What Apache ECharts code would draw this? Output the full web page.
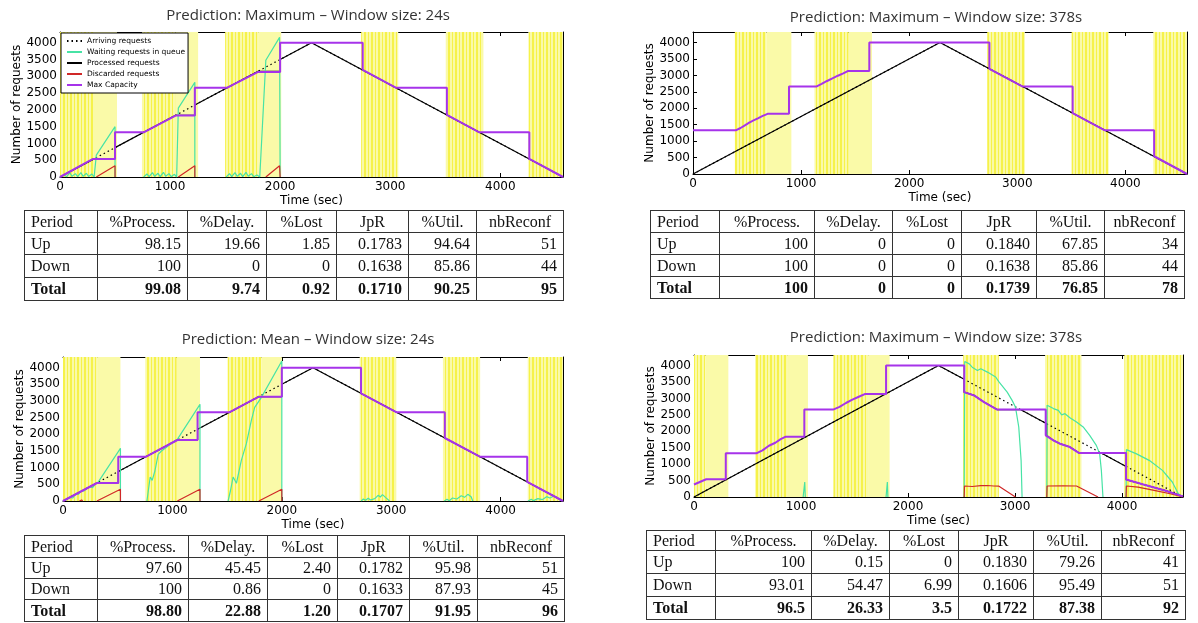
<!DOCTYPE html>
<html><head><meta charset="utf-8">
<script src="https://cdn.jsdelivr.net/npm/echarts@6/dist/echarts.min.js"></script>
<style>
html,body{margin:0;padding:0;background:#fff;}
#chart{position:absolute;left:0;top:0;width:1198px;height:623px;}
.tbl{position:absolute;border-collapse:collapse;table-layout:fixed;font-family:'Liberation Serif','Times New Roman',serif;font-size:16px;color:#111;}
.tbl td{border:1px solid #333;padding:0 6px;white-space:nowrap;line-height:1;overflow:hidden;}
.tbl td.l{text-align:left;} .tbl td.c{text-align:center;} .tbl td.r{text-align:right;}
.tbl tr.tot td{font-weight:bold;}
.notop tr:first-child td{border-top:none;}
</style></head><body>
<div id="chart"></div>
<script>
// ---------------- DATA ----------------
const XMAX = 4570, YMAX = 4320;
const titles = ['Prediction: Maximum \u2013 Window size: 24s', 'Prediction: Maximum \u2013 Window size: 378s',
                'Prediction: Mean \u2013 Window size: 24s', 'Prediction: Maximum \u2013 Window size: 378s'];
const seriesNames = ['Arriving requests', 'Waiting requests in queue', 'Processed requests', 'Discarded requests', 'Max Capacity'];

const arrival = [[0,0],[2285,4000],[4570,0]];

// panel 1 : Maximum, 24s
const bands1 = [[0,300,518],[745,1050,1255],[1500,1800,2010],[2736,3073,3073],[3506,3845,3845],[4255,4570,4570]];
const cap1 = [[0,0],[300,540],[500,540],[500,1330],[760,1330],[1050,1830],[1225,1830],[1225,2660],[1520,2660],[1800,3130],[2000,3130],[2000,4000],[2750,4000],[2750,3190],[3050,2660],[3515,2660],[3515,1850],[3810,1330],[4264,1330],[4264,540],[4570,0]];
const proc1 = [[0,0],[300,525],[500,540],[500,875],[1050,1838],[1225,1838],[1225,2144],[1800,3151],[2000,3151],[2000,3501],[2285,4000],[4570,0]];
const wait1 = [[0,0],[40,60],[60,10],[90,120],[110,20],[140,100],[160,10],[190,130],[210,20],[240,110],[260,15],[290,90],[310,0],[330,650],[500,1500],[500,0],[600,'-'],
  [760,0],[790,90],[810,10],[840,130],[860,20],[890,110],[910,10],[940,140],[960,20],[990,100],[1010,10],[1040,80],[1060,0],[1075,2050],[1225,2820],[1225,0],[1400,'-'],
  [1510,0],[1540,100],[1560,10],[1590,130],[1610,20],[1640,110],[1660,10],[1690,140],[1710,20],[1740,100],[1760,10],[1790,60],[1815,0],[1870,3480],[1995,4160],[2000,0]];
const disc1 = [[330,0],[500,335],[500,0],[700,'-'],[1075,0],[1225,335],[1225,0],[1500,'-'],[1870,0],[1995,335],[2000,0]];

// panel 2 : Maximum, 378s
const bands2 = [[387,680,910],[1124,1440,1656],[2722,3070,3070],[3503,3845,3845],[4258,4570,4570]];
const cap2 = [[0,1330],[395,1330],[440,1400],[480,1480],[520,1560],[560,1630],[600,1690],[640,1760],[690,1830],[888,1830],[888,2660],[1140,2660],[1190,2740],[1240,2830],[1290,2910],[1340,2990],[1390,3060],[1431,3130],[1631,3130],[1631,4000],[2742,4000],[2742,3200],[3050,2660],[3512,2660],[3512,1850],[3810,1330],[4266,1330],[4266,540],[4570,0]];
const proc2 = [[0,0],[2285,4000],[4570,0]];
const wait2 = [];
const disc2 = [];

// panel 3 : Mean, 24s
const bands3 = [[0,312,525],[752,1040,1252],[1503,1812,2000],[2712,3045,3045],[3473,3812,3812],[4248,4570,4570]];
const cap3 = [[0,0],[310,540],[505,540],[505,1330],[760,1330],[1045,1830],[1230,1830],[1230,2660],[1520,2660],[1790,3130],[2000,3130],[2000,4000],[2724,4000],[2724,3230],[3050,2660],[3490,2660],[3490,1890],[3810,1330],[4243,1330],[4243,572],[4570,0]];
const proc3 = [[0,0],[310,540],[505,540],[505,884],[1045,1830],[1230,1830],[1230,2153],[1790,3130],[2000,3130],[2000,3501],[2285,4000],[4570,0]];
const wait3 = [[0,0],[30,40],[60,110],[90,90],[120,230],[140,200],[160,290],[190,300],[220,380],[250,420],[270,400],[300,520],[320,560],[525,1580],[525,0],[600,'-'],
  [767,0],[797,720],[815,620],[840,900],[870,1400],[900,1500],[940,1600],[980,1700],[1020,1800],[1045,1850],[1252,2900],[1252,0],[1400,'-'],
  [1509,0],[1530,300],[1555,720],[1585,530],[1630,1220],[1676,1720],[1721,2410],[1752,2810],[1770,2750],[1812,3100],[2000,4200],[2000,0],[2400,'-'],
  [2725,0],[2745,60],[2765,20],[2790,80],[2810,30],[2850,70],[2880,170],[2900,120],[2920,190],[2950,100],[2985,0],[3200,'-'],
  [3485,0],[3510,50],[3530,10],[3560,90],[3600,60],[3640,160],[3670,110],[3700,200],[3730,130],[3745,0],[4000,'-'],
  [4250,0],[4280,50],[4300,10],[4340,70],[4380,40],[4420,130],[4450,90],[4490,150],[4520,80],[4560,0]];
const disc3 = [[150,0],[170,30],[180,0],[250,'-'],[310,0],[525,350],[525,0],[700,'-'],[1045,0],[1252,350],[1252,0],[1500,'-'],[1790,0],[2000,350],[2000,0]];

// panel 4 : Maximum, 378s
const bands4 = [[0,110,321],[571,870,1065],[1303,1627,1828],[2515,2849,2849],[3281,3621,3621],[4022,4570,4570]];
const cap4 = [[0,380],[114,540],[297,540],[297,1330],[582,1330],[640,1420],[700,1560],[760,1650],[810,1760],[853,1830],[1031,1830],[1031,2660],[1300,2660],[1360,2740],[1420,2860],[1480,2960],[1540,3050],[1596,3130],[1795,3130],[1795,4000],[2525,4000],[2525,3190],[2618,3090],[2710,2888],[2833,2660],[3287,2660],[3287,1875],[3359,1723],[3420,1622],[3513,1520],[3600,1337],[4038,1337],[4038,530],[4200,380],[4400,200],[4570,20]];
const proc4 = [[0,0],[2285,4000],[2525,3580],[2525,3190],[2618,3090],[2710,2888],[2833,2660],[3050,2660],[3297,2230],[3297,1875],[3359,1723],[3420,1622],[3513,1520],[3600,1337],[3810,1330],[4038,930],[4038,530],[4200,380],[4400,200],[4570,20]];
const wait4 = [[1020,0],[1035,456],[1040,0],[1400,'-'],[1795,0],[1807,456],[1812,0],[2200,'-'],
  [2525,0],[2530,4125],[2572,4050],[2600,3950],[2649,3850],[2680,3900],[2742,3800],[2819,3650],[2850,3500],[2927,3190],[2973,2940],[3004,2740],[3035,2130],[3057,1115],[3066,0],[3150,'-'],
  [3297,0],[3300,2790],[3359,2690],[3405,2635],[3436,2500],[3467,2535],[3513,2410],[3575,2280],[3637,2130],[3698,1875],[3760,1570],[3791,1320],[3807,810],[3822,0],[3900,'-'],
  [4038,0],[4041,1440],[4131,1320],[4254,1115],[4378,810],[4470,456],[4526,100],[4560,0]];
const disc4 = [[2525,0],[2528,335],[2600,320],[2680,345],[2742,350],[2800,335],[2850,330],[3004,0],[3150,'-'],
  [3297,0],[3300,335],[3450,340],[3575,335],[3776,0],[3900,'-'],
  [4038,0],[4041,335],[4150,300],[4300,200],[4450,100],[4570,0]];

// tables
const tableHeader = ['Period','%Process.','%Delay.','%Lost','JpR','%Util.','nbReconf'];
const table1 = [['Up','98.15','19.66','1.85','0.1783','94.64','51'],['Down','100','0','0','0.1638','85.86','44'],['Total','99.08','9.74','0.92','0.1710','90.25','95']];
const table2 = [['Up','100','0','0','0.1840','67.85','34'],['Down','100','0','0','0.1638','85.86','44'],['Total','100','0','0','0.1739','76.85','78']];
const table3 = [['Up','97.60','45.45','2.40','0.1782','95.98','51'],['Down','100','0.86','0','0.1633','87.93','45'],['Total','98.80','22.88','1.20','0.1707','91.95','96']];
const table4 = [['Up','100','0.15','0','0.1830','79.26','41'],['Down','93.01','54.47','6.99','0.1606','95.49','51'],['Total','96.5','26.33','3.5','0.1722','87.38','92']];

// ---------------- LAYOUT / STYLE ----------------
const grids = [
  {left:60, top:32, width:503, height:145},
  {left:693, top:32, width:494, height:142},
  {left:63, top:357, width:500, height:144},
  {left:694, top:355, width:489, height:142}
];
const titlePos = [[303,3],[931,5],[303,327],[931,325]];
const tableLayout = [
  {left:24, top:210, cols:[73,90,79,70,72,68,87], rows:[22,22,23,23], cls:''},
  {left:650, top:210, cols:[69,95,78,69,75,68,80], rows:[22,22,22,22], cls:''},
  {left:24, top:535, cols:[73,91,79,70,72,68,87], rows:[22,21,21,22], cls:''},
  {left:646, top:530, cols:[69,96,78,69,75,68,84], rows:[20,23,23,23], cls:'notop'}
];
const C = {green:'#47e3a5', red:'#d02828', purple:'#a633ea', black:'#000', pale:'#fafaa8', sat:'#f6f24a'};

function stripePattern(){
  const c = document.createElement('canvas'); c.width = 7; c.height = 4;
  const g = c.getContext('2d');
  g.fillStyle = C.pale; g.fillRect(0,0,7,4);
  g.fillStyle = C.sat; g.fillRect(0,0,2,4); g.fillRect(4,0,1,4);
  return {image:c, repeat:'repeat'};
}
const pattern = stripePattern();

const panels = [
  {bands:bands1, cap:cap1, proc:proc1, wait:wait1, disc:disc1},
  {bands:bands2, cap:cap2, proc:proc2, wait:wait2, disc:disc2},
  {bands:bands3, cap:cap3, proc:proc3, wait:wait3, disc:disc3},
  {bands:bands4, cap:cap4, proc:proc4, wait:wait4, disc:disc4}
];

const font = 'DejaVu Sans';
const fmt = v => String(v);
const xAxis = [], yAxis = [], series = [], title = [];
panels.forEach((p, g) => {
  const tick = {show:true, inside:true, length:4, lineStyle:{color:'#000', width:1}};
  const line = {show:true, onZero:false, lineStyle:{color:'#000', width:1}};
  xAxis.push({gridIndex:g, type:'value', min:0, max:XMAX, interval:1000, position:'bottom',
    axisLine:line, axisTick:tick, splitLine:{show:false},
    axisLabel:{color:'#000', fontSize:12, fontFamily:font, margin:4, formatter:fmt, showMaxLabel:false},
    name:'Time (sec)', nameLocation:'middle', nameGap:18, nameTextStyle:{color:'#000', fontSize:12, fontFamily:font}});
  xAxis.push({gridIndex:g, type:'value', min:0, max:XMAX, interval:1000, position:'top',
    axisLine:line, axisTick:tick, splitLine:{show:false}, axisLabel:{show:false}});
  yAxis.push({gridIndex:g, type:'value', min:0, max:YMAX, interval:500, position:'left',
    axisLine:line, axisTick:tick, splitLine:{show:false},
    axisLabel:{color:'#000', fontSize:12, fontFamily:font, margin:3, formatter:fmt},
    name:'Number of requests', nameLocation:'middle', nameGap:35, nameTextStyle:{color:'#000', fontSize:12, fontFamily:font}});
  yAxis.push({gridIndex:g, type:'value', min:0, max:YMAX, interval:500, position:'right',
    axisLine:line, axisTick:tick, splitLine:{show:false}, axisLabel:{show:false}});
  const xi = 2*g, yi = 2*g;
  const areas = [];
  p.bands.forEach(([s,m,e]) => {
    areas.push([{xAxis:s, itemStyle:{color:pattern}}, {xAxis:m}]);
    if (e > m) areas.push([{xAxis:m, itemStyle:{color:C.pale}}, {xAxis:e}]);
  });
  series.push({type:'line', name:'bands'+g, xAxisIndex:xi, yAxisIndex:yi, data:[[0,0]], symbol:'none', silent:true,
    lineStyle:{opacity:0}, markArea:{silent:true, data:areas, label:{show:false}}});
  series.push({type:'line', name:seriesNames[0], xAxisIndex:xi, yAxisIndex:yi, data:arrival, symbol:'none',
    lineStyle:{color:C.black, width:1.2, type:[1.5,3]}, itemStyle:{color:C.black}});
  series.push({type:'line', name:seriesNames[2], xAxisIndex:xi, yAxisIndex:yi, data:p.proc, symbol:'none',
    lineStyle:{color:C.black, width:1.2}, itemStyle:{color:C.black}});
  series.push({type:'line', name:seriesNames[1], xAxisIndex:xi, yAxisIndex:yi, data:p.wait, symbol:'none', connectNulls:false,
    lineStyle:{color:C.green, width:1.2}, itemStyle:{color:C.green}});
  series.push({type:'line', name:seriesNames[3], xAxisIndex:xi, yAxisIndex:yi, data:p.disc, symbol:'none', connectNulls:false,
    lineStyle:{color:C.red, width:1.2}, itemStyle:{color:'#b04050'}});
  series.push({type:'line', name:seriesNames[4], xAxisIndex:xi, yAxisIndex:yi, data:p.cap, symbol:'none',
    lineStyle:{color:C.purple, width:2}, itemStyle:{color:C.purple}});
  title.push({text:titles[g], left:titlePos[g][0], top:titlePos[g][1], textAlign:'center',
    textStyle:{fontSize:15, fontWeight:'normal', color:'#333', fontFamily:'Open Sans'}});
});

const chart = echarts.init(document.getElementById('chart'), null, {renderer:'canvas'});
chart.setOption({
  animation:false, backgroundColor:'#fff',
  title:title,
  grid:grids.map(g => Object.assign({containLabel:false, show:false}, g)),
  xAxis:xAxis, yAxis:yAxis, series:series,
  legend:{data:seriesNames, orient:'vertical', left:61, top:33, itemWidth:15, itemHeight:8, itemGap:3,
    padding:[4,3,4,5], backgroundColor:'#fff', borderColor:'#000', borderWidth:1, borderRadius:0,
    selectedMode:false, itemStyle:{opacity:0},
    textStyle:{fontSize:7.5, fontFamily:font, color:'#000', lineHeight:8}}
});

// tables
[table1, table2, table3, table4].forEach((rows, i) => {
  const L = tableLayout[i];
  const t = document.createElement('table');
  t.className = 'tbl ' + L.cls;
  t.style.left = L.left + 'px'; t.style.top = L.top + 'px';
  const cg = document.createElement('colgroup');
  L.cols.forEach(w => { const c = document.createElement('col'); c.style.width = w + 'px'; cg.appendChild(c); });
  t.appendChild(cg);
  const all = [tableHeader].concat(rows);
  all.forEach((r, ri) => {
    const tr = document.createElement('tr');
    tr.style.height = L.rows[ri] + 'px';
    if (ri === 3) tr.className = 'tot';
    r.forEach((v, ci) => {
      const td = document.createElement('td');
      td.textContent = v;
      td.className = ci === 0 ? 'l' : (ri === 0 ? 'c' : 'r');
      tr.appendChild(td);
    });
    t.appendChild(tr);
  });
  document.body.appendChild(t);
});
</script>
</body></html>
